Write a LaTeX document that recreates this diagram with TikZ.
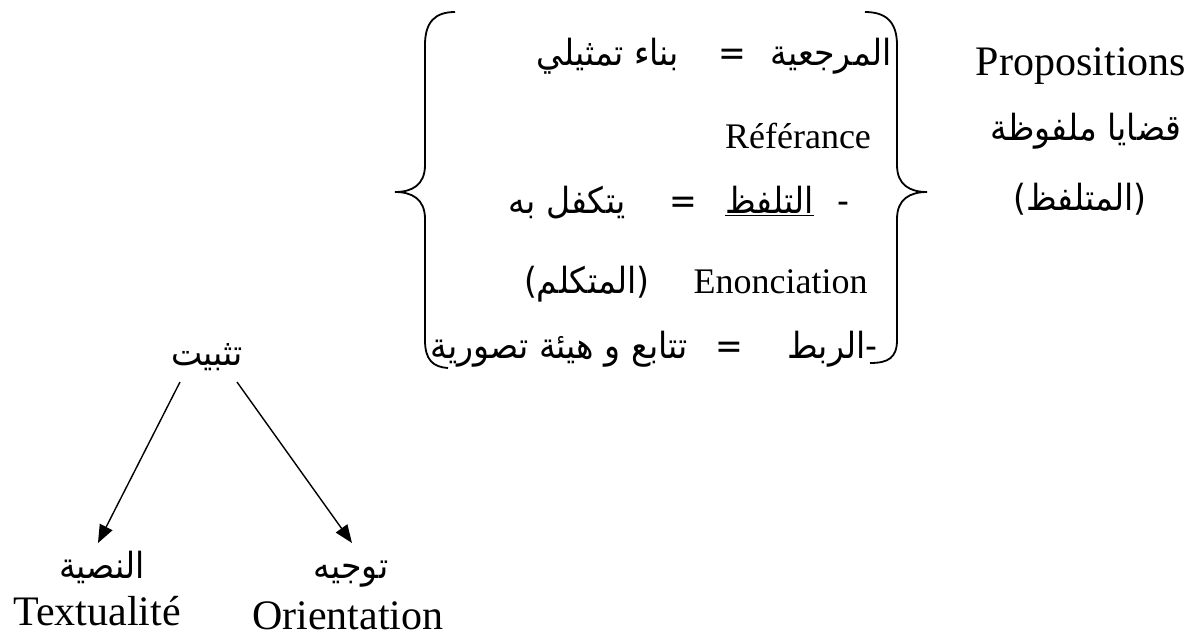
\documentclass[tikz,border=0pt]{standalone}
\usepackage{fontspec}
\setmainfont{Liberation Serif}
\newfontfamily\arabicfont[Script=Arabic,FakeStretch=0.92]{DejaVu Sans}
\TeXXeTstate=1
\usetikzlibrary{arrows.meta,calc}

\tikzset{
  ar/.style={font=\arabicfont\fontsize{18}{21}\selectfont, inner sep=0pt, anchor=base},
  fr/.style={font=\fontsize{18}{22}\selectfont, inner sep=0pt, anchor=base},
  big/.style={font=\fontsize{21}{25}\selectfont, inner sep=0pt, anchor=base},
  brace/.style={line width=0.9pt},
  link/.style={->, line width=0.7pt},
}

\begin{document}
\begin{tikzpicture}[x=0.5pt,y=-0.5pt,>={Triangle[length=9pt,width=7pt]}]
\useasboundingbox (0,0) rectangle (1201,639);

% Right column
\node[big] (props) at (1081,75) {Propositions};
\node[ar] (qadaya) at (1086,140) {\beginR قضايا ملفوظة\endR};
\node[ar] (mutalaffiz) at (1080,210) {\beginR(المتلفظ)\endR};

% Lines between the braces
\node[ar, anchor=base east] (marjiya) at (892,65) {\beginR المرجعية\hspace{12pt}=\hspace{20pt}بناء تمثيلي\endR};
\node[fr] (referance) at (798,148) {Référance};
\node[ar, anchor=base east] (talaffuz) at (850,213) {\beginR-\hspace{12pt}\underline{التلفظ}\hspace{14pt}=\hspace{22pt}يتكفل به\endR};
\node[fr, anchor=base east] (enonciation) at (868,293) {Enonciation};
\node[ar, anchor=base east] (mutakallim) at (650,293) {\beginR(المتكلم)\endR};
\node[ar, anchor=base east] (rabt) at (878,358) {\beginR-الربط\hspace{22pt}=\hspace{14pt}تتابع و هيئة تصورية\endR};

% Braces
\draw[brace] (455,12) .. controls (435,12) and (425,22) .. (425,45) -- (425,165)
  .. controls (425,185) and (412,192) .. (395,192)
  .. controls (412,192) and (425,199) .. (425,219) -- (425,340)
  .. controls (425,360) and (433,367) .. (448,368);
\draw[brace] (865,12) .. controls (886,12) and (897,22) .. (897,45) -- (897,165)
  .. controls (897,185) and (910,192) .. (927,192)
  .. controls (910,192) and (897,199) .. (897,219) -- (897,340)
  .. controls (897,358) and (888,363) .. (870,363);

% Left tree
\node[ar] (tathbit) at (207,365) {\beginR تثبيت\endR};
\node[ar] (nassiya) at (102,578) {\beginR النصية\endR};
\node[ar] (tawjih) at (351,578) {\beginR توجيه\endR};
\node[big] (textualite) at (97,625) {Textualité};
\node[big] (orientation) at (348,629) {Orientation};

\draw[link] ($(tathbit.base)+(-27,17)$) -- ($(nassiya.base)+(-4,-35)$);
\draw[link] ($(tathbit.base)+(30,17)$) -- ($(tawjih.base)+(1,-35)$);

\end{tikzpicture}
\end{document}
